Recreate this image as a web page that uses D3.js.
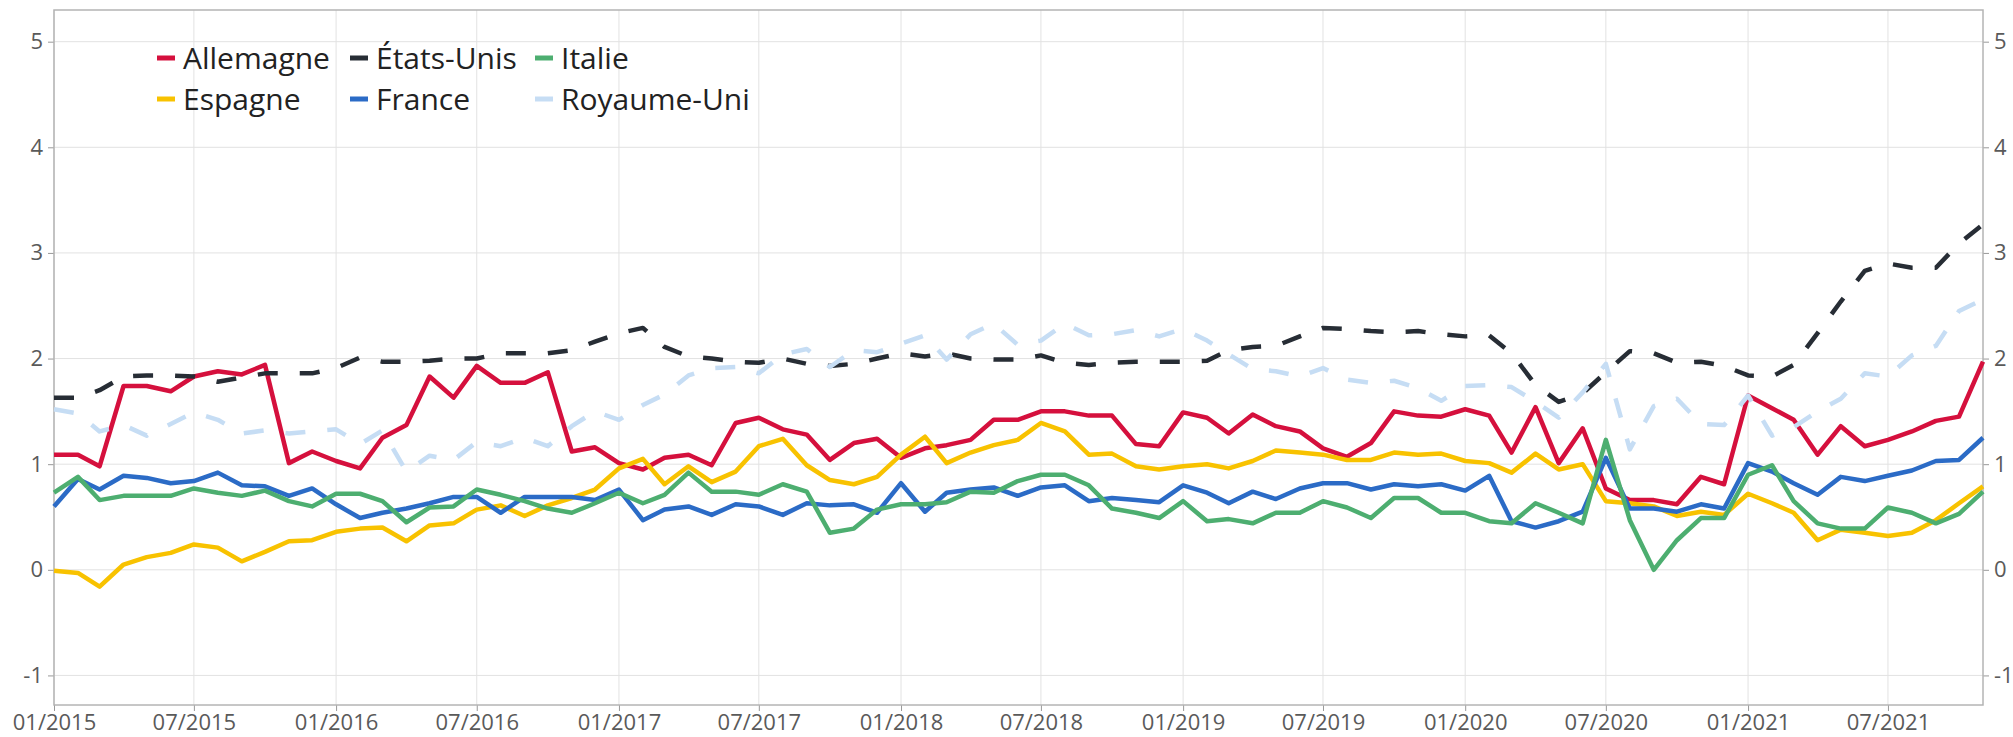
<!DOCTYPE html>
<html>
<head>
<meta charset="utf-8">
<script src="https://cdn.jsdelivr.net/npm/d3@7"></script>
<style>
  body { margin: 0; background: #fff; }
  svg text { font-family: "Open Sans", sans-serif; }
</style>
</head>
<body>
<svg id="chart" width="2013" height="737"></svg>
<script>
// monthly series, 01/2015 .. 11/2021
var firstMonth = "2015-01-01",
    lastMonth = "2021-11-01";

var allemagne = [1.09,1.09,0.98,1.74,1.74,1.69,1.83,1.88,1.85,1.94,1.01,1.12,1.03,0.96,1.25,1.37,1.83,1.63,1.93,1.77,
  1.77,1.87,1.12,1.16,1.01,0.95,1.06,1.09,0.99,1.39,1.44,1.33,1.28,1.04,1.20,1.24,1.06,1.15,1.18,1.23,
  1.42,1.42,1.50,1.50,1.46,1.46,1.19,1.17,1.49,1.44,1.29,1.47,1.36,1.31,1.15,1.07,1.20,1.50,1.46,1.45,
  1.52,1.46,1.11,1.54,1.01,1.34,0.77,0.66,0.66,0.62,0.88,0.81,1.65,1.53,1.42,1.09,1.36,1.17,1.23,1.31,
  1.41,1.45,1.97];
var espagne = [-0.01,-0.03,-0.16,0.05,0.12,0.16,0.24,0.21,0.08,0.17,0.27,0.28,0.36,0.39,0.40,0.27,0.42,0.44,0.57,0.61,
  0.51,0.61,0.68,0.76,0.96,1.05,0.81,0.98,0.83,0.93,1.17,1.24,0.99,0.85,0.81,0.88,1.09,1.26,1.01,1.11,
  1.18,1.23,1.39,1.31,1.09,1.10,0.98,0.95,0.98,1.00,0.96,1.03,1.13,1.11,1.09,1.04,1.04,1.11,1.09,1.10,
  1.03,1.01,0.92,1.10,0.95,1.00,0.65,0.63,0.60,0.51,0.55,0.52,0.72,0.63,0.54,0.28,0.38,0.35,0.32,0.35,
  0.47,0.63,0.79];
var etatsUnis = [1.63,1.63,1.70,1.83,1.84,1.84,1.83,1.78,1.82,1.86,1.86,1.86,1.91,2.01,1.97,1.97,1.98,2.00,2.00,2.05,
  2.05,2.05,2.08,2.16,2.24,2.29,2.11,2.02,2.00,1.97,1.96,2.00,1.95,1.93,1.95,2.00,2.05,2.02,2.05,2.00,
  1.99,1.99,2.03,1.96,1.94,1.96,1.97,1.97,1.97,1.98,2.08,2.11,2.12,2.21,2.29,2.28,2.26,2.25,2.26,2.23,
  2.21,2.22,2.05,1.75,1.59,1.67,1.87,2.07,2.05,1.96,1.97,1.93,1.84,1.83,1.94,2.24,2.54,2.83,2.90,2.86,
  2.86,3.09,3.27];
var france = [0.60,0.86,0.76,0.89,0.87,0.82,0.84,0.92,0.80,0.79,0.70,0.77,0.62,0.49,0.54,0.58,0.63,0.69,0.69,0.54,
  0.69,0.69,0.69,0.66,0.76,0.47,0.57,0.60,0.52,0.62,0.60,0.52,0.63,0.61,0.62,0.54,0.82,0.55,0.73,0.76,
  0.78,0.70,0.78,0.80,0.65,0.68,0.66,0.64,0.80,0.73,0.63,0.74,0.67,0.77,0.82,0.82,0.76,0.81,0.79,0.81,
  0.75,0.89,0.46,0.40,0.46,0.55,1.06,0.58,0.58,0.55,0.62,0.58,1.01,0.93,0.82,0.71,0.88,0.84,0.89,0.94,
  1.03,1.04,1.25];
var italie = [0.73,0.88,0.66,0.70,0.70,0.70,0.77,0.73,0.70,0.75,0.65,0.60,0.72,0.72,0.65,0.45,0.59,0.60,0.76,0.71,
  0.65,0.58,0.54,0.63,0.73,0.63,0.71,0.92,0.74,0.74,0.71,0.81,0.74,0.35,0.39,0.57,0.62,0.62,0.64,0.74,
  0.73,0.84,0.90,0.90,0.80,0.58,0.54,0.49,0.65,0.46,0.48,0.44,0.54,0.54,0.65,0.59,0.49,0.68,0.68,0.54,
  0.54,0.46,0.44,0.63,0.54,0.44,1.23,0.47,0.00,0.28,0.49,0.49,0.90,0.99,0.65,0.44,0.39,0.39,0.59,0.54,
  0.44,0.53,0.74];
var royaumeUni = [1.52,1.48,1.31,1.37,1.27,1.38,1.49,1.42,1.29,1.32,1.29,1.31,1.33,1.19,1.32,0.93,1.08,1.04,1.21,1.17,
  1.25,1.17,1.36,1.50,1.42,1.56,1.66,1.84,1.91,1.92,1.86,2.04,2.09,1.92,2.08,2.06,2.14,2.22,1.99,2.23,
  2.33,2.13,2.17,2.33,2.22,2.23,2.27,2.21,2.28,2.17,2.04,1.90,1.88,1.83,1.91,1.80,1.77,1.79,1.72,1.60,
  1.74,1.75,1.73,1.59,1.44,1.68,1.95,1.14,1.55,1.62,1.38,1.37,1.65,1.27,1.35,1.50,1.62,1.86,1.83,2.03,
  2.12,2.45,2.56];

var seriesNames = ["Allemagne", "Espagne", "États-Unis", "France", "Italie", "Royaume-Uni"];
var seriesValues = [allemagne, espagne, etatsUnis, france, italie, royaumeUni];
var seriesColors = ["#d5103d", "#f8c200", "#272d35", "#2b6bc6", "#4dae70", "#c6ddf4"];
var seriesDashed = [false, false, true, false, false, true];
var yTicks = [-1, 0, 1, 2, 3, 4, 5];

var W = 2013, H = 737;
var margin = { top: 10, left: 54, right: 30, bottom: 32 };
var x0 = margin.left, x1 = W - margin.right,
    yTop = margin.top, yBot = H - margin.bottom;

var svg = d3.select("#chart");

var months = d3.utcMonth.range(new Date(firstMonth), d3.utcMonth.offset(new Date(lastMonth), 1));

var x = d3.scaleUtc()
    .domain([new Date(firstMonth), new Date(lastMonth)])
    .range([x0, x1]);
var y = d3.scaleLinear()
    .domain([-1.28, 5.3])
    .range([yBot, yTop]);

var xTicks = d3.utcMonth.every(6).range(new Date(firstMonth), new Date(lastMonth));

// grid
var grid = svg.append("g");
grid.selectAll(".gx").data(xTicks).enter().append("line")
    .attr("x1", d => x(d)).attr("x2", d => x(d))
    .attr("y1", yTop).attr("y2", yBot)
    .attr("stroke", "#e2e2e2").attr("stroke-width", 1);
grid.selectAll(".gy").data(yTicks).enter().append("line")
    .attr("x1", x0).attr("x2", x1)
    .attr("y1", d => y(d)).attr("y2", d => y(d))
    .attr("stroke", "#e2e2e2").attr("stroke-width", 1);

// axes
var fmt = d3.utcFormat("%m/%Y");
var xAxis = svg.append("g")
    .attr("transform", "translate(0," + yBot + ")")
    .call(d3.axisBottom(x).tickValues(xTicks).tickFormat(fmt).tickSize(6).tickPadding(3));
var yLeft = svg.append("g")
    .attr("transform", "translate(" + x0 + ",0)")
    .call(d3.axisLeft(y).tickValues(yTicks).tickFormat(d3.format("d")).tickSize(6).tickPadding(5));
var yRight = svg.append("g")
    .attr("transform", "translate(" + x1 + ",0)")
    .call(d3.axisRight(y).tickValues(yTicks).tickFormat(d3.format("d")).tickSize(6).tickPadding(5));

[xAxis, yLeft, yRight].forEach(function(a) {
  a.select(".domain").remove();
  a.selectAll(".tick line").attr("stroke", "#999");
  a.selectAll(".tick text").attr("fill", "#5a5a5a").style("font-size", "22px").style("font-family", "'Open Sans', sans-serif");
});
yLeft.selectAll(".tick text").text(d => d < 0 ? "-" + Math.abs(d) : d);
yRight.selectAll(".tick text").text(d => d < 0 ? "-" + Math.abs(d) : d);

// frame
svg.append("rect")
    .attr("x", x0).attr("y", yTop)
    .attr("width", x1 - x0).attr("height", yBot - yTop)
    .attr("fill", "none").attr("stroke", "#b4b4b4").attr("stroke-width", 1.5);

// lines
var line = d3.line()
    .x((d, i) => x(months[i]))
    .y(d => y(d));

var plot = svg.append("g");
seriesValues.forEach(function(vals, k) {
  plot.append("path")
      .datum(vals)
      .attr("d", line)
      .attr("fill", "none")
      .attr("stroke", seriesColors[k])
      .attr("stroke-width", 4.5)
      .attr("stroke-linejoin", "round")
      .attr("stroke-dasharray", seriesDashed[k] ? "20,22" : null);
});

// legend, filled column by column
var legendX = [157, 350, 535], legendY = [58, 99];
var legend = svg.append("g");
seriesNames.forEach(function(name, k) {
  var col = Math.floor(k / 2), row = k % 2;
  var gx = legendX[col], gy = legendY[row];
  legend.append("line")
      .attr("x1", gx).attr("x2", gx + 18)
      .attr("y1", gy).attr("y2", gy)
      .attr("stroke", seriesColors[k]).attr("stroke-width", 5);
  legend.append("text")
      .attr("x", gx + 26).attr("y", gy)
      .attr("dy", "0.35em")
      .attr("fill", "#222")
      .style("font-size", "30px")
      .text(name);
});
</script>
</body>
</html>
